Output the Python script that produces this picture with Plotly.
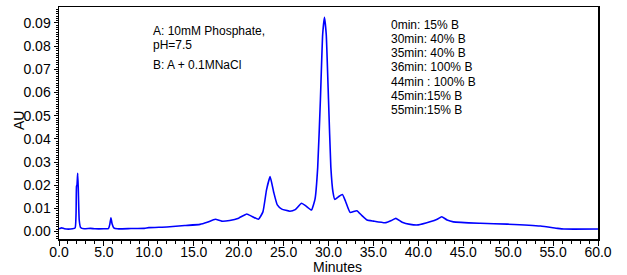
import plotly.graph_objects as go

# Retention time (minutes) and absorbance (AU)
minutes = [0.0, 0.3, 0.6, 1.5, 1.8, 1.9, 1.95, 2.0, 2.08, 2.15, 2.25, 2.4, 2.8, 3.5, 4.0, 5.0,
           5.5, 5.65, 5.78, 5.9, 6.1, 6.5, 8.0, 9.5, 10.0, 12.0, 14.0, 15.7, 16.5, 17.4, 18.1,
           19.0, 20.0, 20.9, 21.5, 22.2, 22.7, 23.1, 23.5, 23.9, 24.3, 24.8, 25.7, 26.3, 27.0,
           27.5, 28.1, 28.5, 28.8, 29.1, 29.35, 29.55, 29.75, 30.0, 30.26, 30.5, 30.7, 31.1,
           31.55, 31.9, 32.4, 33.15, 33.7, 34.3, 35.0, 36.3, 37.0, 37.5, 38.2, 39.1, 40.0, 41.3,
           42.1, 42.6, 43.2, 43.9, 46.9, 49.9, 53.6, 55.5, 56.2, 60.0]
au = [0.0012, 0.0016, 0.0012, 0.0012, 0.0016, 0.0080, 0.0196, 0.0200, 0.0252, 0.0180, 0.0050,
      0.0018, 0.0012, 0.0014, 0.0012, 0.0012, 0.0013, 0.0030, 0.0060, 0.0035, 0.0016, 0.0012,
      0.0013, 0.0014, 0.0017, 0.0020, 0.0026, 0.0031, 0.0040, 0.0053, 0.0045, 0.0048, 0.0058,
      0.0076, 0.0065, 0.0053, 0.0085, 0.0180, 0.0237, 0.0170, 0.0115, 0.0097, 0.0088, 0.0095,
      0.0122, 0.0110, 0.0093, 0.0140, 0.0278, 0.0570, 0.0850, 0.0925, 0.0850, 0.0570, 0.0278,
      0.0170, 0.0139, 0.0150, 0.0160, 0.0130, 0.0083, 0.0090, 0.0070, 0.0050, 0.0045, 0.0038,
      0.0048, 0.0057, 0.0040, 0.0031, 0.0029, 0.0042, 0.0053, 0.0064, 0.0050, 0.0042, 0.0036,
      0.0032, 0.0024, 0.0014, 0.0011, 0.0011]

buffer_text = ["A: 10mM Phosphate,", "pH=7.5", "B: A + 0.1MNaCl"]
gradient_text = ["0min: 15% B", "30min: 40% B", "35min: 40% B", "36min: 100% B",
                 "44min : 100% B", "45min:15% B", "55min:15% B"]
x_title = "Minutes"
y_title = "AU"

W, H = 627, 275
L, R, T, B = 59, 29, 7, 36
pw, ph = W - L - R, H - T - B

def px(x):
    return (x - L) / pw

def py(y):
    return (H - B - y) / ph

fig = go.Figure()
fig.add_trace(go.Scatter(x=minutes, y=au, mode="lines",
                         line=dict(color="#0000ff", width=1.6, shape="spline", smoothing=0.4),
                         showlegend=False, hoverinfo="skip"))

font = dict(family="Liberation Sans, Arial, sans-serif", size=14, color="black")
ann_font = dict(family="Liberation Sans, Arial, sans-serif", size=12, color="black")

annotations = []
for txt, yy in zip(buffer_text, [31, 45, 65]):
    annotations.append(dict(text=txt, x=px(151), y=py(yy), xref="paper", yref="paper",
                            xanchor="left", yanchor="middle", showarrow=False, font=ann_font))
for i, txt in enumerate(gradient_text):
    annotations.append(dict(text=txt, x=px(389), y=py(24.5 + i * 14.3), xref="paper", yref="paper",
                            xanchor="left", yanchor="middle", showarrow=False, font=ann_font))
annotations.append(dict(text=x_title, x=px(337), y=py(266.5), xref="paper", yref="paper",
                        xanchor="center", yanchor="middle", showarrow=False, font=font,
                        borderpad=0))
annotations.append(dict(text=y_title, x=px(19), y=py(121), xref="paper", yref="paper",
                        xanchor="center", yanchor="middle", showarrow=False, font=font,
                        textangle=-90))

fig.update_layout(
    width=W, height=H,
    margin=dict(l=L, r=R, t=T, b=B, pad=0),
    paper_bgcolor="white", plot_bgcolor="white",
    font=font,
    annotations=annotations,
    xaxis=dict(range=[0, 60], dtick=5, tick0=0, tickformat=".1f", automargin=False,
               showline=True, linecolor="black", linewidth=1.5, mirror=True,
               ticks="outside", ticklen=5, tickwidth=1, tickcolor="black",
               ticklabelstandoff=-5,
               minor=dict(dtick=1, ticks="outside", ticklen=3, tickcolor="black"),
               showgrid=False, zeroline=False, tickfont=font),
    yaxis=dict(range=[-0.0032, 0.0969], dtick=0.01, tick0=0, tickformat=".2f", automargin=False,
               showline=True, linecolor="black", linewidth=1.5, mirror=True,
               ticks="outside", ticklen=4, tickwidth=1, tickcolor="black",
               minor=dict(dtick=0.001, ticks="outside", ticklen=2, tickcolor="black"),
               showgrid=False, zeroline=False, tickfont=font),
)

fig.write_html("out.html", config={"displayModeBar": False, "staticPlot": True},
               post_script="document.body.style.margin='0';document.body.style.overflow='hidden';")
